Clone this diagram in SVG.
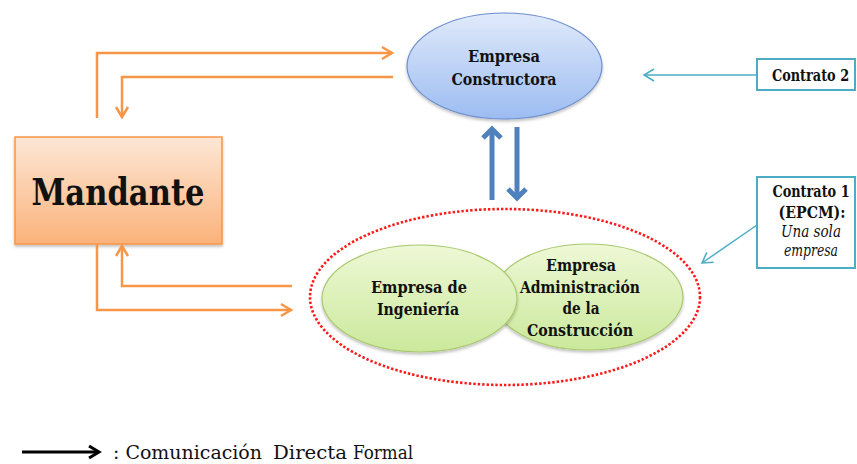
<svg xmlns="http://www.w3.org/2000/svg" width="857" height="464" viewBox="0 0 857 464">
  <style>
    .lbl { font-family: "DejaVu Serif", "Liberation Serif", serif; font-weight: bold; fill: #111; text-anchor: middle; }
    .lbl-start { text-anchor: start; }
    .lbl-it { font-weight: normal; font-style: italic; }
    .legend-text { font-family: "DejaVu Serif", "Liberation Serif", serif; font-size: 19px; fill: #111; }
    .orange { fill: none; stroke: #f79646; stroke-width: 2.5; marker-end: url(#headOrange); }
    .blue { fill: none; stroke: #4f81bd; stroke-width: 5; marker-end: url(#headBlue); }
    .teal { fill: none; stroke: #4bacc6; stroke-width: 1.5; marker-end: url(#headTeal); }
    .box { fill: #ffffff; stroke: #4bacc6; stroke-width: 2; }
  </style>
  <defs>
    <linearGradient id="gOrange" x1="0" y1="0" x2="0" y2="1">
      <stop offset="0" stop-color="#fde7d6"/>
      <stop offset="1" stop-color="#fbb27a"/>
    </linearGradient>
    <linearGradient id="gBlue" x1="0" y1="0" x2="0" y2="1">
      <stop offset="0" stop-color="#e0eafb"/>
      <stop offset="1" stop-color="#9cbcf1"/>
    </linearGradient>
    <linearGradient id="gGreen" x1="0" y1="0" x2="0" y2="1">
      <stop offset="0" stop-color="#eef8d6"/>
      <stop offset="1" stop-color="#cbe99c"/>
    </linearGradient>
    <filter id="shadow" x="-10%" y="-10%" width="120%" height="130%">
      <feDropShadow dx="0" dy="2" stdDeviation="1.5" flood-color="#000" flood-opacity="0.25"/>
    </filter>
    <marker id="headOrange" markerUnits="userSpaceOnUse" viewBox="0 0 12 14" refX="11" refY="7" markerWidth="12" markerHeight="14" orient="auto" overflow="visible">
      <path d="M1,1 L11,7 L1,13" fill="none" stroke="#f79646" stroke-width="2.5"/>
    </marker>
    <marker id="headBlue" markerUnits="userSpaceOnUse" viewBox="0 0 10 20" refX="9" refY="10" markerWidth="10" markerHeight="20" orient="auto" overflow="visible">
      <path d="M0,1 L9,10 L0,19" fill="none" stroke="#4f81bd" stroke-width="5"/>
    </marker>
    <marker id="headTeal" markerUnits="userSpaceOnUse" viewBox="0 0 12 14" refX="11" refY="7" markerWidth="12" markerHeight="14" orient="auto" overflow="visible">
      <path d="M1,1 L11,7 L1,13" fill="none" stroke="#4bacc6" stroke-width="1.5"/>
    </marker>
    <marker id="headBlack" markerUnits="userSpaceOnUse" viewBox="0 0 12 14" refX="11" refY="7" markerWidth="12" markerHeight="14" orient="auto" overflow="visible">
      <path d="M1,1 L11,7 L1,13" fill="none" stroke="#000" stroke-width="3"/>
    </marker>
  </defs>

  <!-- EPCM grouping boundary -->
  <ellipse id="epcm-boundary" cx="505" cy="297" rx="195" ry="88" fill="none" stroke="#ff1a1a" stroke-width="2.6" stroke-dasharray="2.4 2"/>

  <g id="mandante">
    <rect x="15" y="137" width="207" height="107" fill="url(#gOrange)" stroke="#f79646" stroke-width="1.5" filter="url(#shadow)"/>
    <text class="lbl" x="118" y="205" font-size="38" textLength="173" lengthAdjust="spacingAndGlyphs">Mandante</text>
  </g>

  <g id="empresa-constructora">
    <ellipse cx="504.5" cy="66" rx="97.5" ry="53" fill="url(#gBlue)" stroke="#6d8fce" stroke-width="1.2" filter="url(#shadow)"/>
    <text class="lbl" x="504" y="62" font-size="16.5" textLength="72" lengthAdjust="spacingAndGlyphs">Empresa</text>
    <text class="lbl" x="504" y="85" font-size="16.5" textLength="105" lengthAdjust="spacingAndGlyphs">Constructora</text>
  </g>

  <g id="empresa-administracion">
    <ellipse cx="588" cy="297" rx="95" ry="53" fill="url(#gGreen)" stroke="#a9c96e" stroke-width="1.2" filter="url(#shadow)"/>
    <text class="lbl" x="581" y="271" font-size="16.5" textLength="70" lengthAdjust="spacingAndGlyphs">Empresa</text>
    <text class="lbl" x="580" y="293" font-size="16.5" textLength="120" lengthAdjust="spacingAndGlyphs">Administración</text>
    <text class="lbl" x="581" y="314" font-size="16.5" textLength="37" lengthAdjust="spacingAndGlyphs">de la</text>
    <text class="lbl" x="580" y="336" font-size="16.5" textLength="106" lengthAdjust="spacingAndGlyphs">Construcción</text>
  </g>

  <g id="empresa-ingenieria">
    <ellipse cx="419.5" cy="298.5" rx="97.5" ry="53.5" fill="url(#gGreen)" stroke="#a9c96e" stroke-width="1.2" filter="url(#shadow)"/>
    <text class="lbl" x="419" y="293" font-size="16.5" textLength="96" lengthAdjust="spacingAndGlyphs">Empresa de</text>
    <text class="lbl" x="418" y="315" font-size="16.5" textLength="82" lengthAdjust="spacingAndGlyphs">Ingeniería</text>
  </g>

  <g id="contrato-2">
    <rect class="box" x="757" y="59" width="98" height="31"/>
    <text class="lbl" transform="translate(810.5 81) scale(0.78 1)" x="0" y="0" font-size="16" textLength="99" lengthAdjust="spacingAndGlyphs">Contrato 2</text>
  </g>

  <g id="contrato-1">
    <rect class="box" x="757" y="177" width="98" height="91"/>
    <text class="lbl" transform="translate(811 197) scale(0.78 1)" x="0" y="0" font-size="16" textLength="99" lengthAdjust="spacingAndGlyphs">Contrato 1</text>
    <text class="lbl" x="812" y="218" font-size="16" textLength="67" lengthAdjust="spacingAndGlyphs">(EPCM):</text>
    <text class="lbl lbl-it" x="811" y="237" font-size="16" textLength="60" lengthAdjust="spacingAndGlyphs">Una sola</text>
    <text class="lbl lbl-it" x="811" y="256" font-size="16" textLength="54" lengthAdjust="spacingAndGlyphs">empresa</text>
  </g>

  <g id="connectors">
    <!-- Mandante <-> Empresa Constructora -->
    <path class="orange" d="M97,118 V53 H392"/>
    <path class="orange" d="M393,77 H122 V117"/>
    <!-- Mandante <-> EPCM -->
    <path class="orange" d="M292,286 H122 V246"/>
    <path class="orange" d="M97,244 V310 H291"/>
    <!-- Constructora <-> EPCM -->
    <path class="blue" d="M492,200 V129"/>
    <path class="blue" d="M517,127 V198"/>
    <!-- contract call-outs -->
    <path class="teal" d="M757,75 H644"/>
    <path class="teal" d="M757,225 L702,263"/>
  </g>

  <g id="legend">
    <path d="M22,452 H99" fill="none" stroke="#000" stroke-width="3" marker-end="url(#headBlack)"/>
    <text class="legend-text" x="113" y="459" textLength="149" lengthAdjust="spacingAndGlyphs">: Comunicación</text>
    <text class="legend-text" x="273" y="459" textLength="74" lengthAdjust="spacingAndGlyphs">Directa</text>
    <text class="legend-text" x="353" y="459" textLength="60" lengthAdjust="spacingAndGlyphs">Formal</text>
  </g>
</svg>
